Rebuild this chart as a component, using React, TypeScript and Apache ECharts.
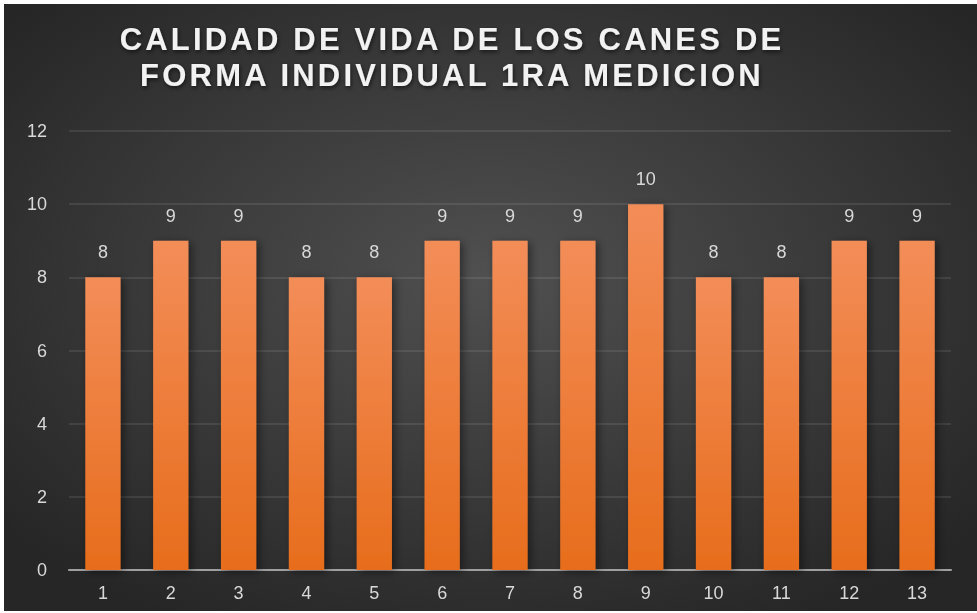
import React, { useEffect, useRef } from "react";
import * as echarts from "echarts";

const titleLines = ["CALIDAD DE VIDA DE LOS CANES DE", "FORMA INDIVIDUAL 1RA MEDICION"];
const categories = ["1", "2", "3", "4", "5", "6", "7", "8", "9", "10", "11", "12", "13"];
const values = [8, 9, 9, 8, 8, 9, 9, 9, 10, 8, 8, 9, 9];
const yTicks = { min: 0, max: 12, interval: 2 };

export default function App() {
  const ref = useRef<HTMLDivElement>(null);
  useEffect(() => {
    if (!ref.current) return;
    const chart = echarts.init(ref.current, undefined, { renderer: "svg" });
    chart.setOption({
      animation: false,
      backgroundColor: new echarts.graphic.RadialGradient(0.5, 0.45, 0.65, [
        { offset: 0, color: "#505050" },
        { offset: 1, color: "#262626" },
      ]),
      title: {
        text: titleLines.join("\n"),
        left: 443,
        top: 12,
        textAlign: "center",
        textStyle: {
          color: "#f2f2f2",
          fontFamily: "Liberation Sans",
          fontWeight: "bold",
          fontSize: 31,
          lineHeight: 36,
          textShadowColor: "rgba(0,0,0,0.6)",
          textShadowBlur: 4,
          textShadowOffsetX: 1,
          textShadowOffsetY: 2,
        },
      },
      grid: { left: 65, right: 26, top: 127, bottom: 41, containLabel: false },
      xAxis: {
        type: "category",
        data: categories,
        axisLine: { lineStyle: { color: "#a0a0a0", width: 2 } },
        axisTick: { show: false },
        axisLabel: {
          color: "#d9d9d9",
          fontSize: 18,
          fontFamily: "Liberation Sans",
          margin: 14,
        },
      },
      yAxis: {
        type: "value",
        min: yTicks.min,
        max: yTicks.max,
        interval: yTicks.interval,
        axisLine: { show: false },
        axisTick: { show: false },
        splitLine: { lineStyle: { color: "rgba(255,255,255,0.12)", width: 1.5 } },
        axisLabel: {
          color: "#d9d9d9",
          fontSize: 18,
          fontFamily: "Liberation Sans",
          margin: 22,
        },
      },
      series: [
        {
          type: "bar",
          data: values,
          barWidth: "52%",
          itemStyle: {
            color: new echarts.graphic.LinearGradient(0, 0, 0, 1, [
              { offset: 0, color: "#f38d58" },
              { offset: 1, color: "#e76d1c" },
            ]),
            shadowColor: "rgba(0,0,0,0.45)",
            shadowBlur: 8,
            shadowOffsetX: 3,
            shadowOffsetY: 2,
          },
          label: {
            show: true,
            position: "top",
            distance: 16,
            color: "#d9d9d9",
            fontSize: 18,
            fontFamily: "Liberation Sans",
          },
        },
      ],
    });
    ref.current.querySelectorAll("text").forEach((t) => {
      if (titleLines.includes((t.textContent || "").trim())) {
        t.setAttribute("letter-spacing", "3.2");
      }
    });
    return () => chart.dispose();
  }, []);
  return (
    <div
      ref={ref}
      style={{ position: "fixed", left: 4, top: 4, width: 973, height: 607 }}
    />
  );
}
